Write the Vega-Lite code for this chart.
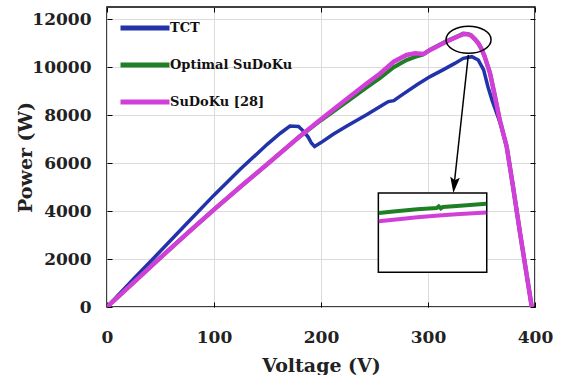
{
  "$schema": "https://vega.github.io/schema/vega-lite/v6.json",
  "autosize": {"type": "none"},
  "width": 428,
  "height": 300,
  "padding": {"left": 107, "top": 7, "right": 26, "bottom": 68},
  "background": "white",
  "datasets": {
    "curves": [
      {"series": "TCT", "V": 0, "P": 0}, {"series": "TCT", "V": 25, "P": 1180}, {"series": "TCT", "V": 50, "P": 2330}, {"series": "TCT", "V": 75, "P": 3500}, {"series": "TCT", "V": 100, "P": 4660}, {"series": "TCT", "V": 125, "P": 5760}, {"series": "TCT", "V": 150, "P": 6790}, {"series": "TCT", "V": 162, "P": 7240}, {"series": "TCT", "V": 171, "P": 7540}, {"series": "TCT", "V": 179, "P": 7520}, {"series": "TCT", "V": 184, "P": 7310}, {"series": "TCT", "V": 188, "P": 7080}, {"series": "TCT", "V": 191, "P": 6830}, {"series": "TCT", "V": 194, "P": 6690}, {"series": "TCT", "V": 200, "P": 6850}, {"series": "TCT", "V": 211, "P": 7190}, {"series": "TCT", "V": 225, "P": 7560}, {"series": "TCT", "V": 243, "P": 8020}, {"series": "TCT", "V": 258, "P": 8430}, {"series": "TCT", "V": 263, "P": 8560}, {"series": "TCT", "V": 268, "P": 8600}, {"series": "TCT", "V": 275, "P": 8820}, {"series": "TCT", "V": 290, "P": 9270}, {"series": "TCT", "V": 302, "P": 9600}, {"series": "TCT", "V": 314, "P": 9880}, {"series": "TCT", "V": 325, "P": 10150}, {"series": "TCT", "V": 333, "P": 10360}, {"series": "TCT", "V": 341, "P": 10430}, {"series": "TCT", "V": 347, "P": 10290}, {"series": "TCT", "V": 352, "P": 9880}, {"series": "TCT", "V": 356, "P": 9180}, {"series": "TCT", "V": 360, "P": 8600}, {"series": "TCT", "V": 364, "P": 8100}, {"series": "TCT", "V": 368, "P": 7600}, {"series": "TCT", "V": 373.5, "P": 6690}, {"series": "TCT", "V": 379, "P": 5150}, {"series": "TCT", "V": 386, "P": 3090}, {"series": "TCT", "V": 392, "P": 1400}, {"series": "TCT", "V": 397, "P": 0},
      {"series": "Optimal SuDoKu", "V": 0, "P": 0}, {"series": "Optimal SuDoKu", "V": 25, "P": 1030}, {"series": "Optimal SuDoKu", "V": 50, "P": 2060}, {"series": "Optimal SuDoKu", "V": 75, "P": 3070}, {"series": "Optimal SuDoKu", "V": 100, "P": 4060}, {"series": "Optimal SuDoKu", "V": 125, "P": 5020}, {"series": "Optimal SuDoKu", "V": 150, "P": 5960}, {"series": "Optimal SuDoKu", "V": 180, "P": 7100}, {"series": "Optimal SuDoKu", "V": 200, "P": 7780}, {"series": "Optimal SuDoKu", "V": 211, "P": 8130}, {"series": "Optimal SuDoKu", "V": 225, "P": 8580}, {"series": "Optimal SuDoKu", "V": 243, "P": 9160}, {"series": "Optimal SuDoKu", "V": 255, "P": 9540}, {"series": "Optimal SuDoKu", "V": 268, "P": 9990}, {"series": "Optimal SuDoKu", "V": 280, "P": 10290}, {"series": "Optimal SuDoKu", "V": 288, "P": 10420}, {"series": "Optimal SuDoKu", "V": 295, "P": 10510}, {"series": "Optimal SuDoKu", "V": 302, "P": 10720}, {"series": "Optimal SuDoKu", "V": 317, "P": 11070}, {"series": "Optimal SuDoKu", "V": 328, "P": 11290}, {"series": "Optimal SuDoKu", "V": 333, "P": 11390}, {"series": "Optimal SuDoKu", "V": 337, "P": 11380}, {"series": "Optimal SuDoKu", "V": 340, "P": 11330}, {"series": "Optimal SuDoKu", "V": 344, "P": 11150}, {"series": "Optimal SuDoKu", "V": 347, "P": 10990}, {"series": "Optimal SuDoKu", "V": 350, "P": 10750}, {"series": "Optimal SuDoKu", "V": 353, "P": 10430}, {"series": "Optimal SuDoKu", "V": 358, "P": 9740}, {"series": "Optimal SuDoKu", "V": 362.6, "P": 8770}, {"series": "Optimal SuDoKu", "V": 367, "P": 7800}, {"series": "Optimal SuDoKu", "V": 373.5, "P": 6690}, {"series": "Optimal SuDoKu", "V": 379, "P": 5150}, {"series": "Optimal SuDoKu", "V": 386, "P": 3090}, {"series": "Optimal SuDoKu", "V": 392, "P": 1400}, {"series": "Optimal SuDoKu", "V": 397, "P": 0},
      {"series": "SuDoKu [28]", "V": 0, "P": 0}, {"series": "SuDoKu [28]", "V": 25, "P": 1030}, {"series": "SuDoKu [28]", "V": 50, "P": 2060}, {"series": "SuDoKu [28]", "V": 75, "P": 3070}, {"series": "SuDoKu [28]", "V": 100, "P": 4060}, {"series": "SuDoKu [28]", "V": 125, "P": 5020}, {"series": "SuDoKu [28]", "V": 150, "P": 5960}, {"series": "SuDoKu [28]", "V": 180, "P": 7100}, {"series": "SuDoKu [28]", "V": 200, "P": 7820}, {"series": "SuDoKu [28]", "V": 211, "P": 8210}, {"series": "SuDoKu [28]", "V": 225, "P": 8700}, {"series": "SuDoKu [28]", "V": 243, "P": 9320}, {"series": "SuDoKu [28]", "V": 255, "P": 9720}, {"series": "SuDoKu [28]", "V": 268, "P": 10220}, {"series": "SuDoKu [28]", "V": 280, "P": 10500}, {"series": "SuDoKu [28]", "V": 288, "P": 10570}, {"series": "SuDoKu [28]", "V": 296, "P": 10540}, {"series": "SuDoKu [28]", "V": 302, "P": 10710}, {"series": "SuDoKu [28]", "V": 317, "P": 11050}, {"series": "SuDoKu [28]", "V": 328, "P": 11270}, {"series": "SuDoKu [28]", "V": 333, "P": 11370}, {"series": "SuDoKu [28]", "V": 337, "P": 11360}, {"series": "SuDoKu [28]", "V": 340, "P": 11320}, {"series": "SuDoKu [28]", "V": 344, "P": 11150}, {"series": "SuDoKu [28]", "V": 347, "P": 10990}, {"series": "SuDoKu [28]", "V": 350, "P": 10750}, {"series": "SuDoKu [28]", "V": 353, "P": 10430}, {"series": "SuDoKu [28]", "V": 358, "P": 9740}, {"series": "SuDoKu [28]", "V": 362.6, "P": 8770}, {"series": "SuDoKu [28]", "V": 367, "P": 7800}, {"series": "SuDoKu [28]", "V": 373.5, "P": 6690}, {"series": "SuDoKu [28]", "V": 379, "P": 5150}, {"series": "SuDoKu [28]", "V": 386, "P": 3090}, {"series": "SuDoKu [28]", "V": 392, "P": 1400}, {"series": "SuDoKu [28]", "V": 397, "P": 0}
    ],
    "inset": [
      {"series": "green", "V": 254, "P": 3920}, {"series": "green", "V": 270, "P": 3990}, {"series": "green", "V": 290, "P": 4070}, {"series": "green", "V": 308, "P": 4120}, {"series": "green", "V": 310, "P": 4190}, {"series": "green", "V": 312, "P": 4110}, {"series": "green", "V": 314, "P": 4170}, {"series": "green", "V": 330, "P": 4220}, {"series": "green", "V": 354.5, "P": 4300},
      {"series": "magenta", "V": 254, "P": 3570}, {"series": "magenta", "V": 270, "P": 3650}, {"series": "magenta", "V": 290, "P": 3740}, {"series": "magenta", "V": 310, "P": 3810}, {"series": "magenta", "V": 330, "P": 3870}, {"series": "magenta", "V": 354.5, "P": 3940}
    ],
    "box": [{"V1": 253.6, "V2": 354.9, "P1": 4750, "P2": 1450}],
    "arrow": [{"V1": 337.7, "P1": 10500, "V2": 324.2, "P2": 5000}],
    "head": [{"V": 324.5, "P": 5080}],
    "ellipse": [{"V": 337.9, "P": 11135}]
  },
  "layer": [
    {
      "data": {"name": "curves"},
      "transform": [{"filter": "datum.series === 'TCT'"}],
      "mark": {"type": "line", "strokeWidth": 3.5, "clip": true},
      "encoding": {
        "x": {"field": "V", "type": "quantitative", "scale": {"domain": [0, 400], "nice": false},
          "axis": {"orient": "bottom", "values": [0, 100, 200, 300, 400], "title": "Voltage (V)", "format": "d"}},
        "y": {"field": "P", "type": "quantitative", "scale": {"domain": [0, 12500], "nice": false},
          "axis": {"orient": "left", "values": [0, 2000, 4000, 6000, 8000, 10000, 12000], "title": "Power (W)", "format": "d"}},
        "color": {"field": "series", "type": "nominal",
          "scale": {"domain": ["TCT", "Optimal SuDoKu", "SuDoKu [28]"], "range": ["#2233aa", "#1f7f25", "#d23fd8"]},
          "legend": {"title": null, "orient": "none", "legendX": 11, "legendY": -6}}
      }
    },
    {
      "data": {"name": "curves"},
      "transform": [{"filter": "datum.series === 'Optimal SuDoKu'"}],
      "mark": {"type": "line", "strokeWidth": 4, "clip": true},
      "encoding": {
        "x": {"field": "V", "type": "quantitative", "axis": null},
        "y": {"field": "P", "type": "quantitative", "axis": null},
        "color": {"field": "series", "type": "nominal"}
      }
    },
    {
      "data": {"name": "curves"},
      "transform": [{"filter": "datum.series === 'SuDoKu [28]'"}],
      "mark": {"type": "line", "strokeWidth": 4.5, "clip": true},
      "encoding": {
        "x": {"field": "V", "type": "quantitative", "axis": null},
        "y": {"field": "P", "type": "quantitative", "axis": null},
        "color": {"field": "series", "type": "nominal"}
      }
    },
    {
      "data": {"name": "box"},
      "mark": {"type": "rect", "fill": "white", "stroke": "black", "strokeWidth": 1.5},
      "encoding": {
        "x": {"field": "V1", "type": "quantitative", "axis": null},
        "x2": {"field": "V2"},
        "y": {"field": "P1", "type": "quantitative", "axis": null},
        "y2": {"field": "P2"}
      }
    },
    {
      "data": {"name": "inset"},
      "transform": [{"filter": "datum.series === 'green'"}],
      "mark": {"type": "line", "strokeWidth": 4, "color": "#1f7f25"},
      "encoding": {
        "x": {"field": "V", "type": "quantitative", "axis": null},
        "y": {"field": "P", "type": "quantitative", "axis": null}
      }
    },
    {
      "data": {"name": "inset"},
      "transform": [{"filter": "datum.series === 'magenta'"}],
      "mark": {"type": "line", "strokeWidth": 4, "color": "#d23fd8"},
      "encoding": {
        "x": {"field": "V", "type": "quantitative", "axis": null},
        "y": {"field": "P", "type": "quantitative", "axis": null}
      }
    },
    {
      "data": {"name": "arrow"},
      "mark": {"type": "rule", "color": "black", "strokeWidth": 1.5},
      "encoding": {
        "x": {"field": "V1", "type": "quantitative", "axis": null},
        "y": {"field": "P1", "type": "quantitative", "axis": null},
        "x2": {"field": "V2"},
        "y2": {"field": "P2"}
      }
    },
    {
      "data": {"name": "head"},
      "mark": {"type": "point", "shape": "M -0.6 -1 L 0 -0.6 L 0.6 -1 L 0 1 Z", "filled": true, "color": "black", "opacity": 1, "size": 256, "angle": 6},
      "encoding": {
        "x": {"field": "V", "type": "quantitative", "axis": null},
        "y": {"field": "P", "type": "quantitative", "axis": null}
      }
    },
    {
      "data": {"name": "ellipse"},
      "mark": {"type": "point", "shape": "M -1 0 A 1 0.6 0 1 1 1 0 A 1 0.6 0 1 1 -1 0 Z", "filled": false, "color": "black", "opacity": 1, "strokeWidth": 1.5, "size": 2025},
      "encoding": {
        "x": {"field": "V", "type": "quantitative",
          "axis": {"orient": "top", "values": [0, 100, 200, 300, 400], "labels": false, "grid": false, "title": null}},
        "y": {"field": "P", "type": "quantitative",
          "axis": {"orient": "right", "values": [0, 2000, 4000, 6000, 8000, 10000, 12000], "labels": false, "grid": false, "title": null}}
      }
    }
  ],
  "resolve": {"axis": {"x": "independent", "y": "independent"}},
  "config": {
    "view": {"stroke": "black", "strokeWidth": 1.5},
    "font": "DejaVu Serif",
    "axis": {
      "domain": false,
      "grid": true,
      "gridColor": "#dcdcdc",
      "gridWidth": 1,
      "ticks": true,
      "tickColor": "black",
      "tickSize": -5,
      "tickWidth": 1,
      "labelFlush": false,
      "labelFont": "DejaVu Serif",
      "labelFontWeight": "bold",
      "labelFontSize": 17,
      "labelColor": "#222222",
      "titleFont": "DejaVu Serif",
      "titleFontWeight": "bold",
      "titleFontSize": 19,
      "titleColor": "#222222"
    },
    "axisBottom": {"labelPadding": 27, "titlePadding": 11},
    "axisLeft": {"labelPadding": 21, "titlePadding": -4},
    "legend": {
      "symbolType": "stroke",
      "symbolSize": 2400,
      "symbolStrokeWidth": 5,
      "labelFont": "DejaVu Serif",
      "labelFontWeight": "bold",
      "labelFontSize": 13,
      "labelColor": "#111111",
      "labelOffset": -2,
      "rowPadding": -25,
      "padding": 0
    }
  }
}
